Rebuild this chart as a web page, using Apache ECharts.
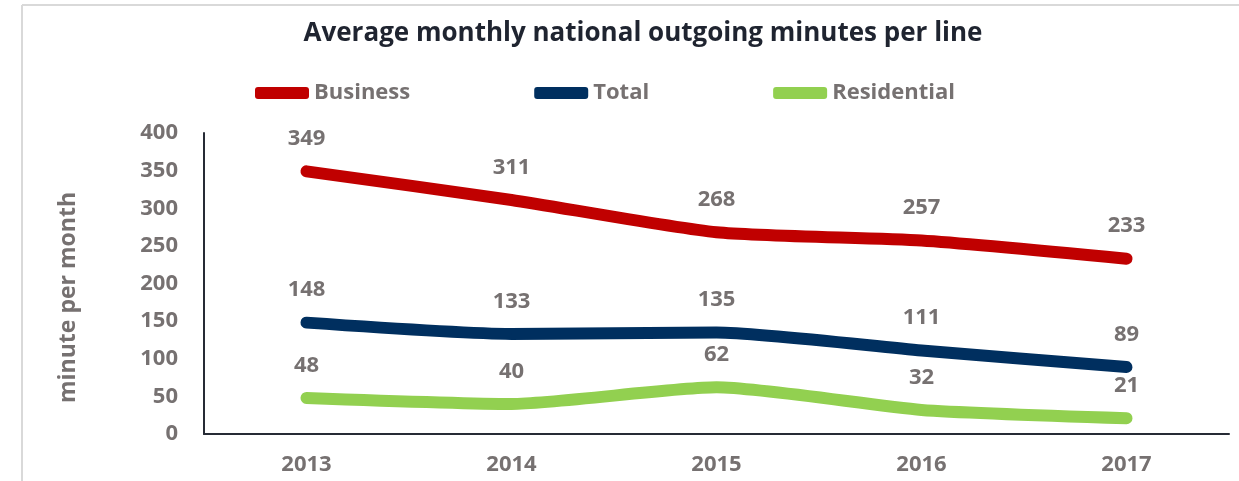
<!DOCTYPE html>
<html>
<head>
<meta charset="utf-8">
<script src="https://cdn.jsdelivr.net/npm/echarts@6/dist/echarts.min.js"></script>
<style>
  html, body { margin: 0; padding: 0; background: #fff; }
  #chart { width: 1239px; height: 481px; }
</style>
</head>
<body>
<div id="chart"></div>
<script>
// data
var years = ['2013', '2014', '2015', '2016', '2017'];
var business = [349, 311, 268, 257, 233];
var total = [148, 133, 135, 111, 89];
var residential = [48, 40, 62, 32, 21];
var yTicks = { min: 0, max: 400, interval: 50 };

var grey = '#767171';
var font = 'Open Sans';

function makeSeries(name, data, color) {
  return {
    name: name,
    type: 'line',
    data: data,
    smooth: 0.2,
    symbol: 'circle',
    symbolSize: 1,
    itemStyle: { color: color },
    lineStyle: { color: color, width: 12, cap: 'round', join: 'round' },
    label: {
      show: true,
      position: 'top',
      distance: 21,
      color: grey,
      fontFamily: font,
      fontWeight: 'bold',
      fontSize: 22
    }
  };
}

var option = {
  backgroundColor: '#fff',
  animation: false,
  title: {
    text: 'Average monthly national outgoing minutes per line',
    left: 638,
    textAlign: 'center',
    top: 16,
    textStyle: { color: '#1f2430', fontFamily: font, fontWeight: 'bold', fontSize: 26 }
  },
  legend: {
    left: 250,
    top: 77,
    itemWidth: 54,
    itemHeight: 12,
    itemGap: 124,
    icon: 'roundRect',
    textStyle: { color: grey, fontFamily: font, fontWeight: 'bold', fontSize: 22 },
    data: ['Business', 'Total', 'Residential']
  },
  graphic: [
    { type: 'line', shape: { x1: 22, y1: 5, x2: 22, y2: 481 }, style: { stroke: '#d9d9d9', lineWidth: 2 } },
    { type: 'line', shape: { x1: 22, y1: 5, x2: 1239, y2: 5 }, style: { stroke: '#d9d9d9', lineWidth: 2 } }
  ],
  grid: { left: 204, right: 10, top: 133, bottom: 47 },
  xAxis: {
    type: 'category',
    data: years,
    boundaryGap: true,
    axisLine: { lineStyle: { color: '#262b35', width: 2 } },
    axisTick: { show: false },
    axisLabel: { color: grey, fontFamily: font, fontWeight: 'bold', fontSize: 22, margin: 20 }
  },
  yAxis: {
    type: 'value',
    min: yTicks.min,
    max: yTicks.max,
    interval: yTicks.interval,
    name: 'minute per month',
    nameLocation: 'middle',
    nameGap: 124,
    nameTextStyle: { color: grey, fontFamily: font, fontWeight: 'bold', fontSize: 23, padding: [0, 28, 0, 0] },
    axisLine: { show: true, lineStyle: { color: '#262b35', width: 2 } },
    axisTick: { show: false },
    splitLine: { show: false },
    axisLabel: { color: grey, fontFamily: font, fontWeight: 'bold', fontSize: 22, margin: 26 }
  },
  series: [
    makeSeries('Business', business, '#c00000'),
    makeSeries('Total', total, '#002f5f'),
    makeSeries('Residential', residential, '#92d050')
  ]
};

var myChart = echarts.init(document.getElementById('chart'));
myChart.setOption(option);
</script>
</body>
</html>
